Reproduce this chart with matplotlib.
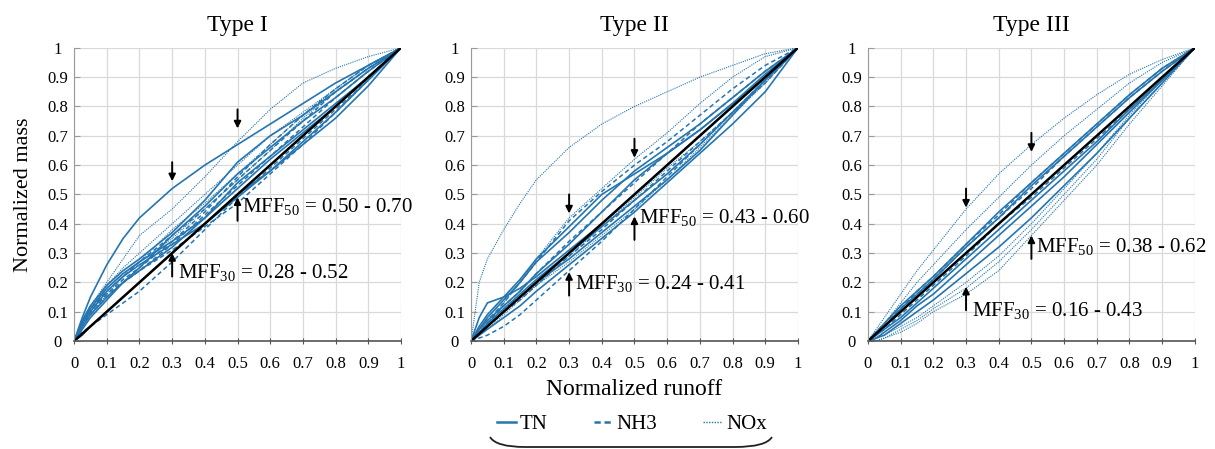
import matplotlib
matplotlib.use("Agg")
import matplotlib.pyplot as plt
from matplotlib.path import Path
from matplotlib.patches import PathPatch
from matplotlib.lines import Line2D

plt.rcParams['font.family'] = ['Liberation Serif', 'DejaVu Serif']
plt.rcParams['mathtext.fontset'] = 'custom'
plt.rcParams['mathtext.rm'] = 'Liberation Serif'

# normalized runoff grid shared by every curve
runoff = [0, 0.025, 0.05, 0.1, 0.15, 0.2, 0.3, 0.4, 0.5, 0.6, 0.7, 0.8, 0.9, 1.0]

titles = ["Type I", "Type II", "Type III"]

# Type I curves (normalized mass)
type1_tn = [
    [0, 0.08, 0.15, 0.26, 0.35, 0.42, 0.52, 0.60, 0.67, 0.74, 0.81, 0.88, 0.94, 1],
    [0, 0.06, 0.11, 0.18, 0.23, 0.27, 0.34, 0.42, 0.52, 0.62, 0.71, 0.80, 0.90, 1],
    [0, 0.06, 0.10, 0.17, 0.22, 0.26, 0.33, 0.40, 0.49, 0.58, 0.68, 0.78, 0.89, 1],
    [0, 0.04, 0.08, 0.14, 0.20, 0.24, 0.32, 0.42, 0.54, 0.63, 0.72, 0.81, 0.90, 1],
    [0, 0.02, 0.05, 0.10, 0.15, 0.20, 0.30, 0.40, 0.50, 0.58, 0.67, 0.76, 0.87, 1],
    [0, 0.05, 0.09, 0.15, 0.20, 0.25, 0.36, 0.46, 0.57, 0.66, 0.75, 0.83, 0.92, 1],
    [0, 0.07, 0.12, 0.19, 0.24, 0.28, 0.37, 0.48, 0.61, 0.70, 0.77, 0.85, 0.93, 1],
]
type1_nh3 = [
    [0, 0.03, 0.05, 0.09, 0.13, 0.17, 0.27, 0.38, 0.49, 0.59, 0.69, 0.79, 0.89, 1],
    [0, 0.05, 0.09, 0.15, 0.20, 0.24, 0.33, 0.43, 0.53, 0.63, 0.73, 0.83, 0.92, 1],
    [0, 0.06, 0.11, 0.17, 0.22, 0.27, 0.36, 0.45, 0.55, 0.65, 0.75, 0.85, 0.93, 1],
    [0, 0.05, 0.10, 0.16, 0.20, 0.24, 0.31, 0.39, 0.47, 0.57, 0.67, 0.78, 0.89, 1],
    [0, 0.06, 0.10, 0.16, 0.21, 0.25, 0.34, 0.44, 0.56, 0.67, 0.77, 0.86, 0.94, 1],
]
type1_nox = [
    [0, 0.07, 0.12, 0.20, 0.28, 0.36, 0.45, 0.56, 0.68, 0.79, 0.88, 0.93, 0.97, 1],
    [0, 0.06, 0.11, 0.19, 0.25, 0.30, 0.40, 0.50, 0.60, 0.70, 0.78, 0.86, 0.94, 1],
    [0, 0.05, 0.09, 0.16, 0.22, 0.27, 0.38, 0.47, 0.57, 0.67, 0.77, 0.86, 0.94, 1],
    [0, 0.07, 0.12, 0.18, 0.23, 0.27, 0.35, 0.45, 0.55, 0.65, 0.76, 0.85, 0.93, 1],
]

# Type II curves
type2_tn = [
    [0, 0.08, 0.13, 0.15, 0.18, 0.22, 0.31, 0.40, 0.50, 0.60, 0.70, 0.80, 0.90, 1],
    [0, 0.04, 0.08, 0.14, 0.20, 0.27, 0.37, 0.48, 0.58, 0.66, 0.74, 0.83, 0.92, 1],
    [0, 0.04, 0.07, 0.12, 0.17, 0.23, 0.33, 0.44, 0.55, 0.64, 0.72, 0.81, 0.91, 1],
    [0, 0.02, 0.05, 0.10, 0.15, 0.20, 0.28, 0.37, 0.46, 0.55, 0.65, 0.77, 0.89, 1],
    [0, 0.02, 0.04, 0.08, 0.12, 0.17, 0.26, 0.35, 0.44, 0.54, 0.64, 0.74, 0.85, 1],
    [0, 0.05, 0.09, 0.15, 0.21, 0.28, 0.39, 0.50, 0.57, 0.64, 0.72, 0.81, 0.90, 1],
    [0, 0.03, 0.06, 0.11, 0.16, 0.21, 0.30, 0.39, 0.48, 0.57, 0.67, 0.78, 0.89, 1],
]
type2_nh3 = [
    [0, 0.01, 0.02, 0.05, 0.09, 0.14, 0.24, 0.34, 0.45, 0.56, 0.67, 0.78, 0.89, 1],
    [0, 0.04, 0.07, 0.13, 0.20, 0.27, 0.41, 0.51, 0.60, 0.68, 0.77, 0.86, 0.94, 1],
    [0, 0.03, 0.06, 0.12, 0.17, 0.23, 0.34, 0.44, 0.54, 0.64, 0.74, 0.83, 0.92, 1],
    [0, 0.03, 0.05, 0.10, 0.14, 0.19, 0.29, 0.38, 0.48, 0.58, 0.68, 0.78, 0.88, 1],
]
type2_nox = [
    [0, 0.20, 0.28, 0.38, 0.47, 0.55, 0.66, 0.74, 0.80, 0.85, 0.90, 0.94, 0.98, 1],
    [0, 0.03, 0.06, 0.13, 0.20, 0.28, 0.42, 0.52, 0.62, 0.71, 0.81, 0.90, 0.97, 1],
    [0, 0.02, 0.04, 0.09, 0.14, 0.19, 0.29, 0.39, 0.49, 0.59, 0.68, 0.78, 0.88, 1],
    [0, 0.03, 0.06, 0.11, 0.15, 0.19, 0.27, 0.36, 0.45, 0.55, 0.66, 0.77, 0.88, 1],
]

# Type III curves
type3_tn = [
    [0, 0.03, 0.06, 0.12, 0.17, 0.22, 0.33, 0.44, 0.54, 0.64, 0.74, 0.84, 0.93, 1],
    [0, 0.03, 0.05, 0.11, 0.16, 0.21, 0.32, 0.42, 0.53, 0.63, 0.73, 0.83, 0.92, 1],
    [0, 0.01, 0.03, 0.07, 0.12, 0.16, 0.26, 0.36, 0.46, 0.56, 0.67, 0.78, 0.89, 1],
    [0, 0.02, 0.04, 0.08, 0.13, 0.18, 0.28, 0.38, 0.48, 0.58, 0.68, 0.79, 0.89, 1],
    [0, 0.01, 0.02, 0.06, 0.10, 0.14, 0.23, 0.32, 0.42, 0.53, 0.64, 0.76, 0.88, 1],
]
type3_nh3 = [
    [0, 0.02, 0.04, 0.09, 0.14, 0.19, 0.29, 0.40, 0.49, 0.59, 0.69, 0.79, 0.89, 1],
    [0, 0.03, 0.05, 0.11, 0.16, 0.21, 0.32, 0.42, 0.52, 0.63, 0.73, 0.83, 0.92, 1],
    [0, 0.03, 0.06, 0.11, 0.17, 0.22, 0.33, 0.43, 0.54, 0.64, 0.74, 0.84, 0.93, 1],
]
type3_nox = [
    [0, 0.04, 0.08, 0.16, 0.24, 0.31, 0.45, 0.57, 0.67, 0.76, 0.84, 0.91, 0.96, 1],
    [0, 0.03, 0.06, 0.13, 0.20, 0.26, 0.38, 0.49, 0.60, 0.70, 0.79, 0.88, 0.95, 1],
    [0, 0.00, 0.01, 0.03, 0.06, 0.10, 0.16, 0.24, 0.36, 0.48, 0.60, 0.74, 0.87, 1],
    [0, 0.01, 0.02, 0.05, 0.08, 0.12, 0.20, 0.29, 0.40, 0.52, 0.64, 0.77, 0.89, 1],
    [0, 0.00, 0.01, 0.04, 0.07, 0.11, 0.18, 0.27, 0.38, 0.50, 0.62, 0.76, 0.88, 1],
]

curves = [
    (type1_tn, type1_nh3, type1_nox),
    (type2_tn, type2_nh3, type2_nox),
    (type3_tn, type3_nh3, type3_nox),
]

# MFF30 / MFF50 ranges (min, max) per type
mff30 = [(0.28, 0.52), (0.24, 0.41), (0.16, 0.43)]
mff50 = [(0.50, 0.70), (0.43, 0.60), (0.38, 0.62)]

# where the up-arrows and their labels sit in each panel
up30_tip = [0.30, 0.235, 0.185]
up50_tip = [0.49, 0.425, 0.36]
text30_y = [0.232, 0.195, 0.10]
text50_y = [0.455, 0.42, 0.32]

ticks = [0, 0.1, 0.2, 0.3, 0.4, 0.5, 0.6, 0.7, 0.8, 0.9, 1]
tick_labels = ["0", "0.1", "0.2", "0.3", "0.4", "0.5", "0.6", "0.7", "0.8", "0.9", "1"]

blue = "#2475b0"

fig = plt.figure(figsize=(12.15, 4.49), dpi=100)
lefts = [0.061, 0.3877, 0.7144]
axes = []
for i in range(3):
    ax = fig.add_axes([lefts[i], 0.2405, 0.269, 0.653])
    axes.append(ax)
    tn, nh3, nox = curves[i]
    for y in nox:
        ax.plot(runoff, y, color=blue, lw=0.8, ls=(0, (1, 1)))
    for y in nh3:
        ax.plot(runoff, y, color=blue, lw=1.1, ls=(0, (3, 2)))
    for y in tn:
        ax.plot(runoff, y, color=blue, lw=1.2, ls='-')
    ax.plot([0, 1], [0, 1], color='black', lw=1.8)

    ax.set_xlim(0, 1)
    ax.set_ylim(0, 1)
    ax.set_xticks(ticks)
    ax.set_yticks(ticks)
    ax.set_xticklabels(tick_labels, fontsize=12)
    ax.set_yticklabels(tick_labels, fontsize=12)
    for lbl in ax.get_yticklabels():
        lbl.set_horizontalalignment('center')
    ax.grid(True, color='#d9d9d9', lw=0.9)
    ax.set_axisbelow(True)
    for s in ['top', 'right']:
        ax.spines[s].set_visible(False)
    ax.spines['left'].set_color('#9a9a9a')
    ax.spines['bottom'].set_color('#555555')
    ax.spines['bottom'].set_linewidth(1.2)
    ax.tick_params(axis='x', direction='inout', length=5, color='#555555', pad=8)
    ax.tick_params(axis='y', direction='in', length=4, color='#9a9a9a', pad=12)
    ax.set_title(titles[i], fontsize=17, pad=12)

    lo30, hi30 = mff30[i]
    lo50, hi50 = mff50[i]
    arrow = dict(arrowstyle='-|>', color='black', lw=1.4, mutation_scale=10,
                 shrinkA=0, shrinkB=0)
    # down arrows marking the upper bound
    ax.annotate("", xy=(0.3, hi30 + 0.025), xytext=(0.3, hi30 + 0.09), arrowprops=arrow)
    ax.annotate("", xy=(0.5, hi50 + 0.025), xytext=(0.5, hi50 + 0.09), arrowprops=arrow)
    # up arrows marking the lower bound
    ax.annotate("", xy=(0.3, up30_tip[i]), xytext=(0.3, up30_tip[i] - 0.08), arrowprops=arrow)
    ax.annotate("", xy=(0.5, up50_tip[i]), xytext=(0.5, up50_tip[i] - 0.08), arrowprops=arrow)
    ax.text(0.318, text30_y[i], "MFF$_{30}$ = %.2f - %.2f" % (lo30, hi30),
            fontsize=15, va='center', ha='left')
    ax.text(0.515, text50_y[i], "MFF$_{50}$ = %.2f - %.2f" % (lo50, hi50),
            fontsize=15, va='center', ha='left')

axes[0].set_ylabel("Normalized mass", fontsize=16, labelpad=10)
axes[1].set_xlabel("Normalized runoff", fontsize=17, labelpad=5)

handles = [
    Line2D([], [], color=blue, lw=1.8, ls='-'),
    Line2D([], [], color=blue, lw=1.8, ls=(0, (2.5, 1.5))),
    Line2D([], [], color=blue, lw=1.0, ls=(0, (1, 1))),
]
fig.legend(handles, ["TN", "NH3", "NOx"], loc='center', bbox_to_anchor=(0.52, 0.055),
           ncol=3, frameon=False, fontsize=15, handlelength=0.9, handletextpad=0.2,
           columnspacing=2.2)

# brace under the legend
verts = [(490, 437), (496, 447), (525, 447), (735, 447), (766, 447), (772, 437)]
verts = [(x / 1215, 1 - y / 449) for x, y in verts]
codes = [Path.MOVETO, Path.CURVE3, Path.CURVE3, Path.LINETO, Path.CURVE3, Path.CURVE3]
brace = PathPatch(Path(verts, codes), transform=fig.transFigure, fill=False,
                  lw=1.3, color='#222222')
fig.add_artist(brace)

fig.savefig("out.png", dpi=100)
